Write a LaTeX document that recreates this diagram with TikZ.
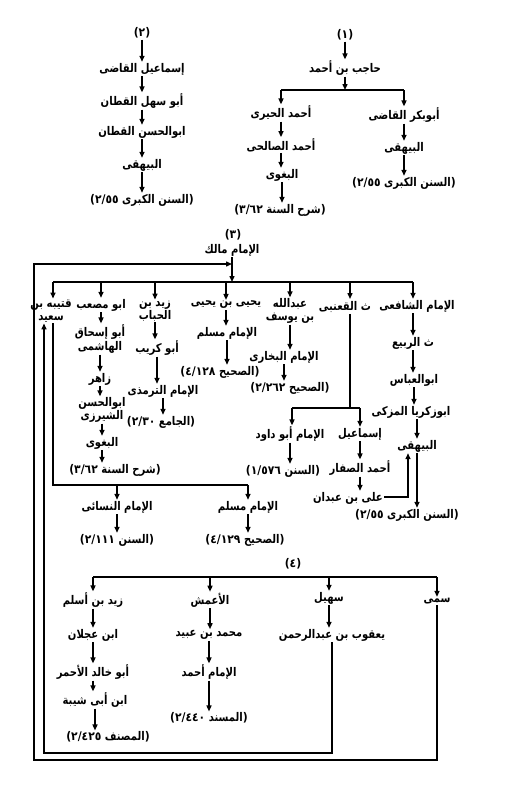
\documentclass[tikz,border=0pt]{standalone}
\usepackage{fontspec}
\newfontfamily\arabicfont[Script=Arabic,FakeStretch=0.84]{DejaVu Sans}
\newfontfamily\pl[FakeStretch=0.9]{DejaVu Sans}
\TeXXeTstate=1
\usetikzlibrary{arrows.meta}
\newcommand\AR[1]{\beginR #1\endR}
\newcommand\NUM[1]{{\pl(#1)}}
\newcommand\OP{\mbox{\pl)}}
\newcommand\CL{\mbox{\pl(}}
\newcommand\DG[1]{\mbox{\pl #1}}
\begin{document}
\begin{tikzpicture}[x=1bp,y=-1bp,
  every node/.style={font=\arabicfont\bfseries\fontsize{12}{13}\selectfont, inner sep=1bp, align=center},
  ln/.style={line width=1.1bp},
  arr/.style={line width=1.4bp, -{Triangle[length=6bp,width=5bp]}}]
\fill[white] (0,0) rectangle (510,788);
\useasboundingbox (0,0) rectangle (510,788);
% ---------- (2)
\node (n2) at (142,33) {\NUM{٢}};
\node (b1) at (142,69) {\AR{إسماعيل القاضى}};
\node (b2) at (142,101) {\AR{أبو سهل القطان}};
\node (b3) at (142,132) {\AR{ابوالحسن القطان}};
\node (b4) at (142,165) {\AR{البيهقى}};
\node (b5) at (142,200) {\AR{\OP السنن الكبرى \DG{٢/٥٥}\CL}};
\draw[arr] (n2) -- (n2|-b1.north);
\draw[arr] (b1) -- (b1|-b2.north);
\draw[arr] (b2) -- (b2|-b3.north);
\draw[arr] (b3) -- (b3|-b4.north);
\draw[arr] (b4) -- (b4|-b5.north);
% ---------- (1)
\node (n1) at (345,35) {\NUM{١}};
\node (a0) at (345,68) {\AR{حاجب بن أحمد}};
\node (a1) at (281,113) {\AR{أحمد الحيرى}};
\node (a2) at (281,145) {\AR{أحمد الصالحى}};
\node (a3) at (282,175) {\AR{البغوى}};
\node (a4) at (280,210) {\AR{\OP شرح السنة \DG{٣/٦٢}\CL}};
\node (c1) at (404,115) {\AR{أبوبكر القاضى}};
\node (c2) at (404,148) {\AR{البيهقى}};
\node (c3) at (404,183) {\AR{\OP السنن الكبرى \DG{٢/٥٥}\CL}};
\coordinate (j1) at (345,90);
\coordinate (j1l) at (281,90);
\coordinate (j1r) at (404,90);
\draw[arr] (n1) -- (n1|-a0.north);
\draw[arr] (a0) -- (j1);
\draw[ln] (j1l) -- (j1r);
\draw[arr] (j1l) -- (j1l|-a1.north);
\draw[arr] (j1r) -- (j1r|-c1.north);
\draw[arr] (a1) -- (a1|-a2.north);
\draw[arr] (a2) -- (a2|-a3.north);
\draw[arr] (a3) -- (a3|-a4.north);
\draw[arr] (c1) -- (c1|-c2.north);
\draw[arr] (c2) -- (c2|-c3.north);
% ---------- (3)
\node (n3) at (233,235) {\NUM{٣}};
\node (m) at (232,250) {\AR{الإمام مالك}};
\coordinate (bl) at (53,282);
\coordinate (br) at (413,282);
\node (q) at (51,311) {\AR{قتيبه بن}\\\AR{سعيد}};
\node (mus) at (101,305) {\AR{ابو مصعب}};
\node (zh) at (155,311) {\AR{زيد بن}\\\AR{الحباب}};
\node (yy) at (226,305) {\AR{يحيى بن يحيى}};
\node (ab) at (290,311) {\AR{عبدالله}\\\AR{بن يوسف}};
\node (qa) at (345,307) {\AR{ث القعنبى}};
\node (sh) at (417,306) {\AR{الإمام الشافعى}};
\draw[arr] (m) -- (m|-bl);
\draw[ln] (bl) -- (br);
\draw[arr] (bl) -- (bl|-q.north);
\foreach \t in {mus,zh,yy,ab} \draw[arr] (\t|-bl) -- (\t.north);
\draw[arr] (br) -- (br|-sh.north);
\draw[arr] (350,282) -- (350,299);
% column mus
\node (ai) at (100,339) {\AR{أبو إسحاق}\\[1bp]\AR{الهاشمى}};
\node (zahir) at (100,379) {\AR{زاهر}};
\node (abh) at (102,410) {\AR{ابوالحسن}\\\AR{الشيرزى}};
\node (bagh) at (102,443) {\AR{البغوى}};
\node (sharh) at (115,470) {\AR{\OP شرح السنة \DG{٣/٦٢}\CL}};
\draw[arr] (mus) -- (mus|-ai.north);
\draw[arr] (ai) -- (ai|-zahir.north);
\draw[arr] (zahir) -- (zahir|-abh.north);
\draw[arr] (abh) -- (abh|-bagh.north);
\draw[arr] (bagh) -- (bagh|-sharh.north);
% column zh
\node (akr) at (157,348) {\AR{أبو كريب}};
\node (tirm) at (163,391) {\AR{الإمام الترمذى}};
\node (jami) at (161,422) {\AR{\OP الجامع \DG{٢/٣٠}\CL}};
\draw[arr] (zh) -- (zh|-akr.north);
\draw[arr] (akr) -- (akr|-tirm.north);
\draw[arr] (tirm) -- (tirm|-jami.north);
% column yy
\node (imsl) at (227,333) {\AR{الإمام مسلم}};
\node (sah1) at (220,372) {\AR{\OP الصحيح \DG{٤/١٢٨}\CL}};
\draw[arr] (yy) -- (yy|-imsl.north);
\draw[arr] (imsl) -- (imsl|-sah1.north);
% column ab
\node (bukh) at (284,357) {\AR{الإمام البخارى}};
\node (sah2) at (290,388) {\AR{\OP الصحيح \DG{٢/٢٦٢}\CL}};
\draw[arr] (ab) -- (ab|-bukh.north);
\draw[arr] (bukh) -- (bukh|-sah2.north);
% column qa
\coordinate (qj) at (350,408);
\coordinate (qjl) at (292,408);
\coordinate (qjr) at (360,408);
\node (adw) at (290,434) {\AR{الإمام أبو داود}};
\node (isml) at (360,434) {\AR{إسماعيل}};
\node (sunan1) at (283,471) {\AR{\OP السنن \DG{١/٥٧٦}\CL}};
\node (saff) at (360,468) {\AR{أحمد الصفار}};
\node (aliab) at (348,498) {\AR{على بن عبدان}};
\draw[ln] (qa.south-|qj) -- (qj);
\draw[ln] (qjl) -- (qjr);
\draw[arr] (qjl) -- (qjl|-adw.north);
\draw[arr] (qjr) -- (qjr|-isml.north);
\draw[arr] (adw) -- (adw|-sunan1.north);
\draw[arr] (isml) -- (isml|-saff.north);
\draw[arr] (saff) -- (saff|-aliab.north);
% column sh
\node (rabi) at (413,343) {\AR{ث الربيع}};
\node (abbas) at (414,380) {\AR{ابوالعباس}};
\node (zak) at (411,412) {\AR{ابوزكريا المزكى}};
\node (bay) at (417,446) {\AR{البيهقى}};
\node (sunank) at (407,515) {\AR{\OP السنن الكبرى \DG{٢/٥٥}\CL}};
\coordinate (cb) at (408,497);
\draw[arr] (sh.south-|rabi) -- (rabi.north);
\draw[arr] (rabi) -- (rabi|-abbas.north);
\draw[arr] (abbas) -- (abbas|-zak.north);
\draw[arr] (zak.south-|bay) -- (bay.north);
\draw[arr] (bay) -- (bay|-sunank.north);
\draw[arr] (aliab.east|-cb) -- (cb) -- (cb|-bay.south);
% lower left of (3)
\coordinate (dl) at (53,485);
\coordinate (dr) at (248,485);
\node (nas) at (117,507) {\AR{الإمام النسائى}};
\node (sunan2) at (117,540) {\AR{\OP السنن \DG{٢/١١١}\CL}};
\node (msl2) at (248,507) {\AR{الإمام مسلم}};
\node (sah3) at (245,540) {\AR{\OP الصحيح \DG{٤/١٢٩}\CL}};
\draw[ln] (dl|-q.south) -- (dl) -- (dr);
\draw[arr] (nas|-dl) -- (nas.north);
\draw[arr] (dr) -- (dr|-msl2.north);
\draw[arr] (nas) -- (nas|-sunan2.north);
\draw[arr] (msl2) -- (msl2|-sah3.north);
% ---------- (4)
\node (n4) at (293,564) {\NUM{٤}};
\coordinate (fl) at (93,577);
\coordinate (fr) at (437,577);
\node (zaid) at (93,600) {\AR{زيد بن أسلم}};
\node (amash) at (210,600) {\AR{الأعمش}};
\node (suhail) at (329,598) {\AR{سهيل}};
\node (sumai) at (437,601) {\AR{سمى}};
\node (ajlan) at (93,635) {\AR{ابن عجلان}};
\node (mub) at (209,635) {\AR{محمد بن عبيد}};
\node (yaq) at (332,635) {\AR{يعقوب بن عبدالرحمن}};
\node (akh) at (93,672) {\AR{أبو خالد الأحمر}};
\node (ahmad) at (209,672) {\AR{الإمام أحمد}};
\node (abs) at (95,700) {\AR{ابن أبى شيبة}};
\node (musannaf) at (108,737) {\AR{\OP المصنف \DG{٢/٤٢٥}\CL}};
\node (musnad) at (209,718) {\AR{\OP المسند \DG{٢/٤٤٠}\CL}};
\draw[ln] (fl) -- (fr);
\foreach \t in {zaid,amash,suhail,sumai} \draw[arr] (\t|-fl) -- (\t.north);
\draw[arr] (zaid) -- (zaid|-ajlan.north);
\draw[arr] (ajlan) -- (ajlan|-akh.north);
\draw[arr] (akh) -- (akh|-abs.north);
\draw[arr] (abs) -- (abs|-musannaf.north);
\draw[arr] (amash) -- (amash|-mub.north);
\draw[arr] (mub) -- (mub|-ahmad.north);
\draw[arr] (ahmad) -- (ahmad|-musnad.north);
\draw[arr] (suhail) -- (suhail|-yaq.north);
% ---------- loops
\coordinate (o1) at (34,264);
\coordinate (o2) at (34,760);
\coordinate (in) at (44,753);
\draw[arr] (sumai) -- (sumai|-o2) -- (o2) -- (o1) -- (m|-o1);
\draw[arr] (yaq) -- (yaq|-in) -- (in) -- (in|-q.south);
\end{tikzpicture}
\end{document}
